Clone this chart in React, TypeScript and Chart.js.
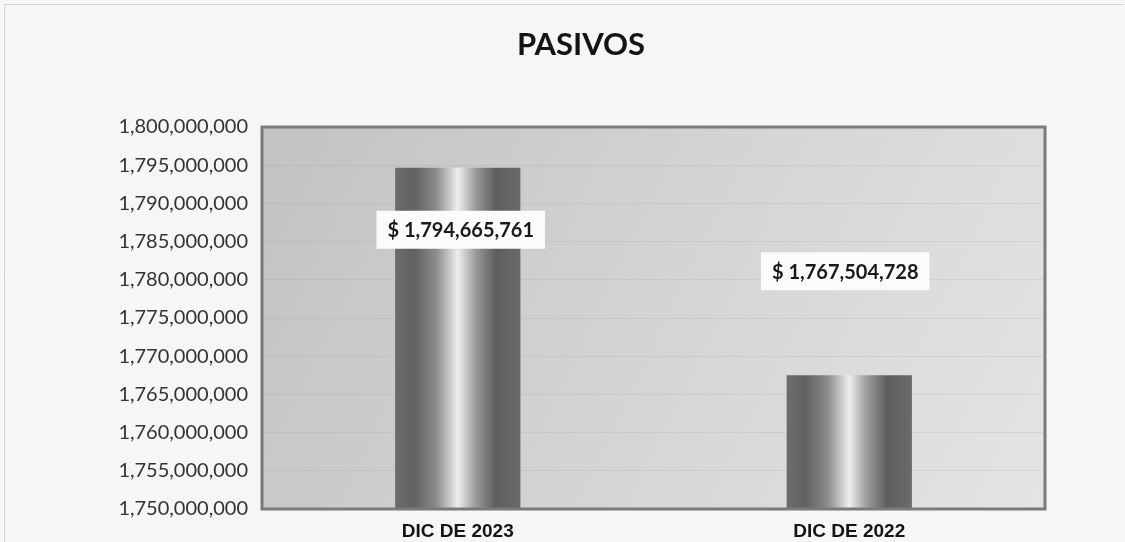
import React, { useEffect, useRef } from "react";
import { Chart, registerables } from "chart.js";

Chart.register(...registerables);

// ---- data ----
const categories: string[] = ["DIC DE 2023", "DIC DE 2022"];
const pasivos: number[] = [1794665761, 1767504728];
const yMin = 1750000000;
const yMax = 1800000000;
const yStep = 5000000;
const chartTitle = "PASIVOS";

// ---- styling (pixel offsets of the value boxes relative to each bar top) ----
const labelOffsetY = [62, -104];
const labelOffsetX = [3, -4];

const fmt = (v: number) => Math.round(v).toLocaleString("en-US");

const plotDecor = {
  id: "plotDecor",
  beforeDraw(chart: any) {
    const { ctx, chartArea: a, width, height } = chart;
    ctx.save();
    ctx.fillStyle = "#f6f6f6";
    ctx.fillRect(0, 0, width, height);
    ctx.strokeStyle = "#d2d2d2";
    ctx.lineWidth = 1;
    ctx.beginPath();
    ctx.moveTo(4.5, height);
    ctx.lineTo(4.5, 4.5);
    ctx.lineTo(width - 2, 4.5);
    ctx.stroke();
    const g = ctx.createLinearGradient(a.left, a.top, a.right, a.bottom);
    g.addColorStop(0, "#c2c2c2");
    g.addColorStop(0.5, "#d4d4d4");
    g.addColorStop(1, "#e4e4e4");
    ctx.fillStyle = g;
    ctx.fillRect(a.left, a.top, a.right - a.left, a.bottom - a.top);
    ctx.font = "bold 31px Lato";
    ctx.fillStyle = "#141414";
    ctx.textAlign = "center";
    ctx.textBaseline = "middle";
    ctx.fillText(chartTitle, 581, 45);
    ctx.restore();
  },
  beforeDatasetsDraw(chart: any) {
    const { ctx } = chart;
    const meta = chart.getDatasetMeta(0);
    meta.data.forEach((el: any) => {
      const w = el.width;
      if (!isFinite(el.x) || !isFinite(w)) return;
      const g = ctx.createLinearGradient(el.x - w / 2, 0, el.x + w / 2, 0);
      g.addColorStop(0, "#6c6c6c");
      g.addColorStop(0.15, "#616161");
      g.addColorStop(0.33, "#8c8c8c");
      g.addColorStop(0.5, "#eeeeee");
      g.addColorStop(0.64, "#9c9c9c");
      g.addColorStop(0.8, "#5e5e5e");
      g.addColorStop(1, "#6a6a6a");
      el.options.backgroundColor = g;
    });
  },
  afterDatasetsDraw(chart: any) {
    const { ctx, chartArea: a } = chart;
    ctx.save();
    ctx.strokeStyle = "#7a7a7a";
    ctx.lineWidth = 3;
    ctx.strokeRect(a.left, a.top, a.right - a.left, a.bottom - a.top);
    const meta = chart.getDatasetMeta(0);
    ctx.font = "bold 20px Lato";
    ctx.textAlign = "center";
    ctx.textBaseline = "middle";
    meta.data.forEach((el: any, i: number) => {
      const text = "$ " + fmt(pasivos[i]);
      const cx = el.x + labelOffsetX[i];
      const cy = el.y + labelOffsetY[i];
      const tw = ctx.measureText(text).width;
      const bw = tw + 22;
      const bh = 38;
      ctx.fillStyle = "#fbfbfb";
      ctx.fillRect(cx - bw / 2, cy - bh / 2, bw, bh);
      ctx.fillStyle = "#1a1a1a";
      ctx.fillText(text, cx, cy + 1);
    });
    ctx.restore();
  },
};

export default function App() {
  const ref = useRef<HTMLCanvasElement | null>(null);

  useEffect(() => {
    let chart: Chart | null = null;
    let cancelled = false;
    const make = () => {
      if (cancelled || !ref.current) return;
      chart = new Chart(ref.current, {
        type: "bar",
        data: {
          labels: categories,
          datasets: [
            {
              data: pasivos,
              categoryPercentage: 1,
              barPercentage: 0.32,
              borderWidth: 0,
              backgroundColor: () => "#8a8a8a",
            },
          ],
        },
        options: {
          responsive: true,
          maintainAspectRatio: false,
          animation: false,
          layout: { padding: { left: 0, right: 80, top: 127, bottom: 0 } },
          plugins: {
            legend: { display: false },
            tooltip: { enabled: false },
            title: { display: false },
          },
          scales: {
            x: {
              afterFit: (s: any) => {
                s.height = 33;
              },
              grid: { display: false, drawTicks: false },
              border: { display: false },
              ticks: {
                color: "#141414",
                padding: 13,
                font: { family: "Liberation Sans", size: 19, weight: "bold", lineHeight: 1 },
              },
            },
            y: {
              min: yMin,
              max: yMax,
              afterFit: (s: any) => {
                s.width = 262;
              },
              grid: { color: "rgba(120,120,120,0.13)", lineWidth: 1, drawTicks: false },
              border: { display: false },
              ticks: {
                stepSize: yStep,
                padding: 14,
                color: "#333333",
                font: { family: "Lato", size: 20 },
                callback: (v: any) => fmt(Number(v)),
              },
            },
          },
        },
        plugins: [plotDecor],
      });
    };
    const fontsReady = (document as any).fonts
      ? Promise.all([
          (document as any).fonts.load("bold 31px Lato"),
          (document as any).fonts.load("20px Lato"),
          (document as any).fonts.load("bold 19px 'Liberation Sans'"),
        ]).catch(() => null)
      : Promise.resolve(null);
    fontsReady.then(make);
    return () => {
      cancelled = true;
      if (chart) chart.destroy();
    };
  }, []);

  return (
    <div style={{ position: "fixed", left: 0, top: 0, width: 1125, height: 542, background: "#f6f6f6" }}>
      <canvas ref={ref} />
    </div>
  );
}
